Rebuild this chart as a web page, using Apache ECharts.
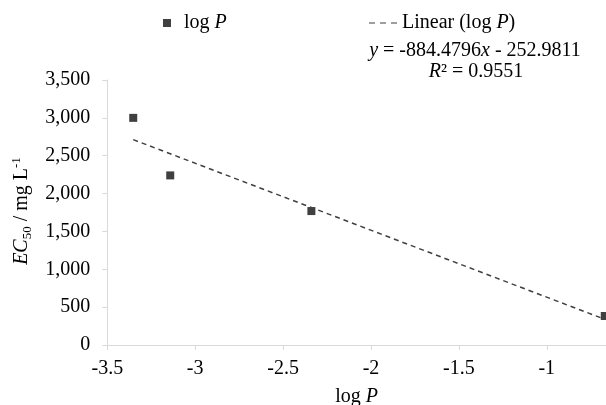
<!DOCTYPE html>
<html>
<head>
<meta charset="utf-8">
<script src="https://cdn.jsdelivr.net/npm/echarts@6/dist/echarts.min.js"></script>
<style>html,body{margin:0;padding:0;background:#fff}#c{width:606px;height:405px}</style>
</head>
<body>
<div id="c"></div>
<script>
// Data
const logP = [-3.3525, -3.142, -2.339, -0.67];
const ec50 = [3000, 2240, 1769, 383];
// Trendline as printed on the chart
const trendSlope = -884.4796;
const trendIntercept = -252.9811;
const trendR2 = '0.9551';
const seriesName = 'log P';
const trendName = 'Linear (log P)';

const FONT = 'Liberation Serif, serif';
const TXT = '#000';
const AXC = '#d9d9d9';
const MARK = '#404040';

const scatterData = logP.map((x, i) => [x, ec50[i]]);
const xMinD = Math.min(...logP), xMaxD = Math.max(...logP);
const trendData = [[xMinD, trendSlope * xMinD + trendIntercept], [xMaxD, trendSlope * xMaxD + trendIntercept]];

const chart = echarts.init(document.getElementById('c'), null, {renderer: 'canvas'});
const richBase = {
  n: {fontFamily: FONT, fontSize: 20, color: TXT},
  i: {fontFamily: FONT, fontSize: 20, color: TXT, fontStyle: 'italic'}
};
chart.setOption({
  animation: false,
  backgroundColor: '#fff',
  textStyle: {fontFamily: FONT},
  grid: {left: 107.3, right: 0, top: 80, bottom: 60, containLabel: false, outerBoundsMode: 'none'},
  legend: [
    {
      data: [{name: seriesName, icon: 'rect'}], left: 163, top: 13, padding: 0,
      itemWidth: 8, itemHeight: 8,
      formatter: () => '{n|log }{i|P}',
      textStyle: {padding: [0, 0, 0, 8], rich: richBase}
    },
    {
      data: [{name: trendName, icon: 'path://M0,0h6v1h-6z M11,0h6v1h-6z M22,0h6v1h-6z'}],
      left: 369, top: 13, padding: 0,
      itemWidth: 28, itemHeight: 1.8,
      itemStyle: {color: MARK, borderWidth: 0},
      formatter: () => '{n|Linear (log }{i|P}{n|)}',
      textStyle: {rich: richBase}
    }
  ],
  xAxis: {
    type: 'value', min: -3.5, max: -0.663, interval: 0.5,
    name: '{n|log }{i|P}', nameLocation: 'middle', nameGap: 42,
    nameTextStyle: {rich: richBase},
    axisLine: {show: true, lineStyle: {color: AXC, width: 1}},
    axisTick: {show: true, length: 5, lineStyle: {color: AXC}},
    axisLabel: {color: TXT, fontSize: 20, fontFamily: FONT, margin: 14, showMaxLabel: false},
    splitLine: {show: false}
  },
  yAxis: {
    type: 'value', min: 0, max: 3500, interval: 500,
    axisLine: {show: true, lineStyle: {color: AXC, width: 1}},
    axisTick: {show: true, length: 5, lineStyle: {color: AXC}},
    axisLabel: {color: TXT, fontSize: 20, fontFamily: FONT, margin: 17,
      formatter: v => v.toLocaleString('en-US')},
    splitLine: {show: false}
  },
  series: [
    {
      name: seriesName, type: 'scatter', data: scatterData, symbol: 'rect', symbolSize: 8,
      itemStyle: {color: MARK, opacity: 1}, clip: false
    },
    {
      name: trendName, type: 'line', data: trendData, symbol: 'none', showSymbol: false,
      lineStyle: {color: MARK, width: 1.5, type: [5, 4]}, itemStyle: {color: MARK}
    }
  ],
  graphic: [
    {
      type: 'text', x: 475, y: 51,
      style: {
        text: '{i|y}{n| = -884.4796}{i|x}{n| - 252.9811}',
        rich: richBase, align: 'center', verticalAlign: 'middle'
      }
    },
    {
      type: 'text', x: 476, y: 72,
      style: {
        text: '{i|R}{n|² = ' + trendR2 + '}',
        rich: richBase, align: 'center', verticalAlign: 'middle'
      }
    },
    {
      type: 'text', x: 22, y: 211, rotation: Math.PI / 2,
      style: {
        text: '{i|EC}{sub|50}{n| / mg L}{sup|-1}',
        align: 'center', verticalAlign: 'middle',
        rich: {
          n: {fontFamily: FONT, fontSize: 20, color: TXT, lineHeight: 24, verticalAlign: 'middle'},
          i: {fontFamily: FONT, fontSize: 20, color: TXT, fontStyle: 'italic', lineHeight: 24, verticalAlign: 'middle'},
          sub: {fontFamily: FONT, fontSize: 13, color: TXT, verticalAlign: 'bottom', lineHeight: 24},
          sup: {fontFamily: FONT, fontSize: 13, color: TXT, verticalAlign: 'top', lineHeight: 24}
        }
      }
    }
  ]
});
</script>
</body>
</html>
